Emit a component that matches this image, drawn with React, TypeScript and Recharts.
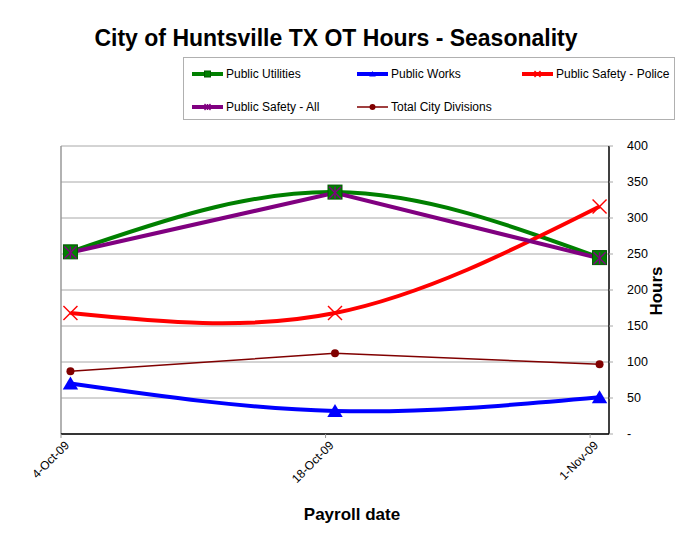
import React from 'react';
import { LineChart, Line, XAxis, YAxis, CartesianGrid, ReferenceLine, Legend } from 'recharts';

// payroll dates, as days after 4-Oct-09
const payrollDates = ['4-Oct-09', '18-Oct-09', '1-Nov-09'];
const payrollDays = [0, 14, 28];

const publicUtilities = [253, 336, 245];
const publicWorks = [70, 32, 51];
const safetyPolice = [168, 168, 316];
const safetyAll = [252, 335, 244];
const totalCity = [87, 112, 97];

const hourTicks = [0, 50, 100, 150, 200, 250, 300, 350, 400];

// Excel's date axis puts each point in the middle of its day
const data = payrollDays.map((d, i) => ({
  day: d + 0.5,
  utilities: publicUtilities[i],
  works: publicWorks[i],
  police: safetyPolice[i],
  safety: safetyAll[i],
  total: totalCity[i],
}));

type Marker = 'square' | 'triangle' | 'cross' | 'star' | 'circle';

const series: { key: string; name: string; color: string; width: number; marker: Marker; curve: 'natural' | 'linear' }[] = [
  { key: 'utilities', name: 'Public Utilities', color: '#008000', width: 4, marker: 'square', curve: 'natural' },
  { key: 'works', name: 'Public Works', color: '#0000ff', width: 4, marker: 'triangle', curve: 'natural' },
  { key: 'police', name: 'Public Safety - Police', color: '#ff0000', width: 4, marker: 'cross', curve: 'natural' },
  { key: 'safety', name: 'Public Safety - All', color: '#800080', width: 4, marker: 'star', curve: 'linear' },
  { key: 'total', name: 'Total City Divisions', color: '#800000', width: 1.5, marker: 'circle', curve: 'linear' },
];

const drawMarker = (kind: Marker, cx: number, cy: number, color: string, s: number, key?: string) => {
  switch (kind) {
    case 'square':
      return <rect key={key} x={cx - s} y={cy - s} width={s * 2} height={s * 2} fill={color} stroke="#005a00" strokeWidth={1} />;
    case 'triangle':
      return <polygon key={key} points={`${cx},${cy - s} ${cx + s * 1.1},${cy + s * 0.85} ${cx - s * 1.1},${cy + s * 0.85}`} fill={color} />;
    case 'cross':
      return (
        <g key={key} stroke={color} strokeWidth={1.4}>
          <line x1={cx - s} y1={cy - s} x2={cx + s} y2={cy + s} />
          <line x1={cx - s} y1={cy + s} x2={cx + s} y2={cy - s} />
        </g>
      );
    case 'star':
      return (
        <g key={key} stroke={color} strokeWidth={1.4}>
          <line x1={cx - s} y1={cy - s} x2={cx + s} y2={cy + s} />
          <line x1={cx - s} y1={cy + s} x2={cx + s} y2={cy - s} />
          <line x1={cx} y1={cy - s} x2={cx} y2={cy + s} />
        </g>
      );
    default:
      return <circle key={key} cx={cx} cy={cy} r={s} fill={color} />;
  }
};

const dotSize: Record<Marker, number> = { square: 7, triangle: 7, cross: 7, star: 6, circle: 4 };

const makeDot = (kind: Marker, color: string) => (props: any) => {
  const { cx, cy, index } = props;
  if (cx == null || cy == null) return <g key={`e-${index}`} />;
  return drawMarker(kind, cx, cy, color, dotSize[kind], `d-${index}`);
};

const XTick = (props: any) => {
  const { x, y, payload } = props;
  const label = payrollDates[payrollDays.indexOf(payload.value)];
  const ax = x + 6;
  const ay = y + 3;
  return (
    <text x={ax} y={ay} transform={`rotate(-45 ${ax} ${ay})`} textAnchor="end" fontSize={12}
      fontFamily="Liberation Sans, Arial, sans-serif" fill="#000" dy="0.35em">
      {label}
    </text>
  );
};

const renderLegend = () => (
  <div style={{ border: '1px solid #b0b0b0', width: 492, height: 63, boxSizing: 'border-box', position: 'relative',
    fontFamily: 'Liberation Sans, Arial, sans-serif', fontSize: 12, background: '#fff' }}>
    {series.map((s, i) => {
      const col = i % 3;
      const row = Math.floor(i / 3);
      return (
        <div key={s.key} style={{ position: 'absolute', left: 8 + col * 165, top: 8 + row * 33, height: 16,
          display: 'flex', alignItems: 'center', whiteSpace: 'nowrap' }}>
          <svg width={32} height={16} style={{ marginRight: 2 }}>
            <line x1={0} y1={8} x2={31} y2={8} stroke={s.color} strokeWidth={s.width} />
            {drawMarker(s.marker, 15.5, 8, s.color, 3)}
          </svg>
          <span>{s.name}</span>
        </div>
      );
    })}
  </div>
);

const App: React.FC = () => {
  return (
    <div style={{ position: 'absolute', left: 0, top: 0, width: 679, height: 537, background: '#fff' }}>
      <div style={{ position: 'absolute', left: 0, top: 25, width: 672, textAlign: 'center',
        fontFamily: 'Liberation Sans, Arial, sans-serif', fontWeight: 'bold', fontSize: 23 }}>
        City of Huntsville TX OT Hours - Seasonality
      </div>
      <LineChart width={679} height={537} data={data} margin={{ top: 146, right: 0, bottom: 0, left: 61 }}>
        <CartesianGrid vertical={false} stroke="#a8a8a8" />
        <XAxis
          dataKey="day"
          type="number"
          domain={[0, 29]}
          ticks={payrollDays}
          tick={<XTick />}
          height={103}
          tickSize={4}
          axisLine={{ stroke: '#000', strokeWidth: 1.5 }}
          tickLine={{ stroke: '#999' }}
          allowDataOverflow
        />
        <YAxis
          orientation="right"
          domain={[0, 400]}
          ticks={hourTicks}
          width={70}
          tickSize={4}
          tickMargin={14}
          tickFormatter={(v: number) => (v === 0 ? '-' : String(v))}
          tick={{ fill: '#000', fontSize: 12.5, fontFamily: 'Liberation Sans, Arial, sans-serif' }}
          axisLine={{ stroke: '#000', strokeWidth: 1.5 }}
          tickLine={{ stroke: '#a8a8a8' }}
        />
        <ReferenceLine x={0} stroke="#999" strokeWidth={1.5} />
        {series.map((s) => (
          <Line
            key={s.key}
            dataKey={s.key}
            name={s.name}
            type={s.curve}
            stroke={s.color}
            strokeWidth={s.width}
            dot={makeDot(s.marker, s.color)}
            activeDot={false}
            isAnimationActive={false}
          />
        ))}
        <Legend
          layout="vertical"
          align="center"
          verticalAlign="middle"
          content={renderLegend}
          wrapperStyle={{ left: 183, top: 57, width: 494, height: 65 }}
        />
      </LineChart>
      <div style={{ position: 'absolute', left: 252, top: 505, width: 200, textAlign: 'center',
        fontFamily: 'Liberation Sans, Arial, sans-serif', fontWeight: 'bold', fontSize: 17 }}>
        Payroll date
      </div>
      <div style={{ position: 'absolute', left: 607, top: 281, width: 100, textAlign: 'center',
        transform: 'rotate(-90deg)', fontFamily: 'Liberation Sans, Arial, sans-serif', fontWeight: 'bold', fontSize: 17 }}>
        Hours
      </div>
    </div>
  );
};

export default App;
